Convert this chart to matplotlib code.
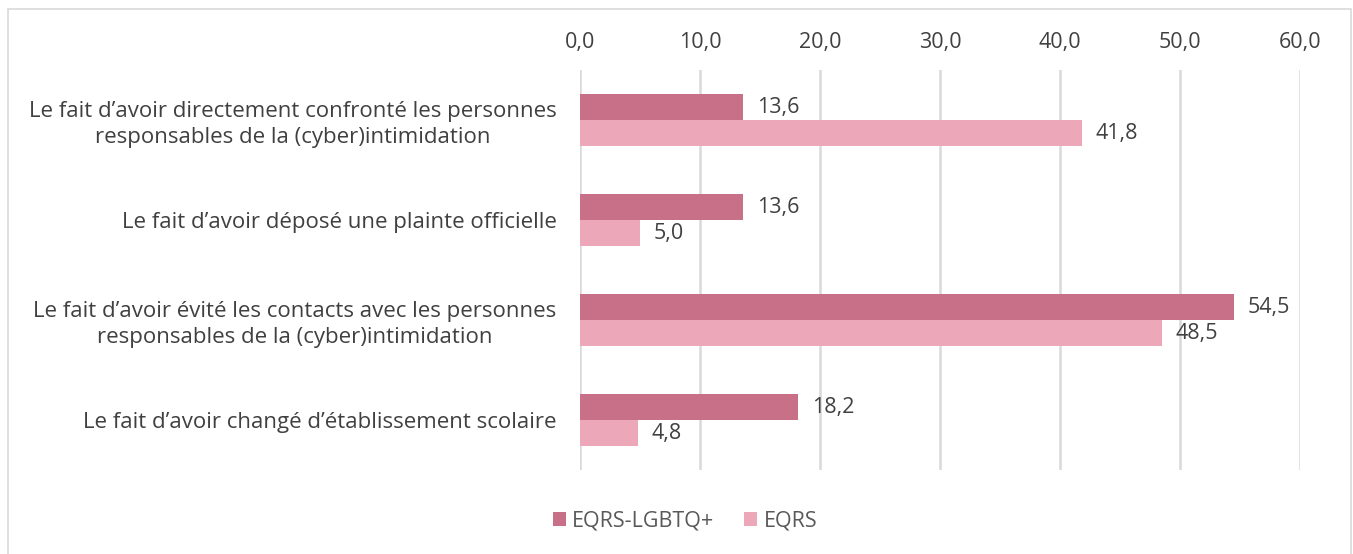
import matplotlib.pyplot as plt
import numpy as np
from matplotlib.patches import Rectangle

categories = [
    "Le fait d\u2019avoir directement confront\u00e9 les personnes\nresponsables de la (cyber)intimidation",
    "Le fait d\u2019avoir d\u00e9pos\u00e9 une plainte officielle",
    "Le fait d\u2019avoir \u00e9vit\u00e9 les contacts avec les personnes\nresponsables de la (cyber)intimidation",
    "Le fait d\u2019avoir chang\u00e9 d\u2019\u00e9tablissement scolaire",
]
lgbtq = [13.6, 13.6, 54.5, 18.2]
eqrs = [41.8, 5.0, 48.5, 4.8]
series_names = ["EQRS-LGBTQ+", "EQRS"]
xticks = [0, 10, 20, 30, 40, 50, 60]

dark = "#C97089"
light = "#ECA8B9"
txt = "#404040"
fs = 15.5

plt.rcParams['font.family'] = ['Open Sans', 'DejaVu Sans']

fig = plt.figure(figsize=(13.53, 5.54), dpi=100)
ax = fig.add_axes([580 / 1353, 1 - 470 / 554, 720 / 1353, 400 / 554])

y = np.arange(len(categories))
h = 0.26
b1 = ax.barh(y - h / 2, lgbtq, height=h, color=dark, label=series_names[0], zorder=3)
b2 = ax.barh(y + h / 2, eqrs, height=h, color=light, label=series_names[1], zorder=3)

for bars, vals in ((b1, lgbtq), (b2, eqrs)):
    for bar, v in zip(bars, vals):
        ax.annotate(f"{v:.1f}".replace(".", ","), (v, bar.get_y() + bar.get_height() / 2),
                    xytext=(10, 0), textcoords='offset points',
                    va='center', ha='left', fontsize=fs, color=txt)

ax.set_xlim(0, 60)
ax.set_ylim(len(categories) - 0.5, -0.5)
ax.set_xticks(xticks, [f"{t:.1f}".replace(".", ",") for t in xticks])
ax.xaxis.tick_top()
ax.tick_params(axis='x', length=0, labelsize=fs, labelcolor=txt, pad=12)
ax.set_yticks(y, categories)
ax.tick_params(axis='y', length=0, labelsize=16, labelcolor=txt, pad=17)
for lab in ax.get_yticklabels():
    lab.set_multialignment('center')
    lab.set_linespacing(1.25)

ax.grid(axis='x', color='#D9D9D9', linewidth=1.8, zorder=0)
for s in ax.spines.values():
    s.set_visible(False)

fig.legend(handles=[b1, b2], loc='center', bbox_to_anchor=(685 / 1353, 1 - 521 / 554),
           ncol=2, frameon=False, fontsize=fs, labelcolor='#595959',
           handlelength=0.6, handleheight=0.6, handletextpad=0.3, columnspacing=1.4)

fig.patches.append(Rectangle((8 / 1353, -0.01), 1343 / 1353, 1 - 9 / 554 + 0.01,
                             transform=fig.transFigure, fill=False,
                             edgecolor='#D9D9D9', linewidth=1.2))

fig.savefig("out.png", dpi=100)
